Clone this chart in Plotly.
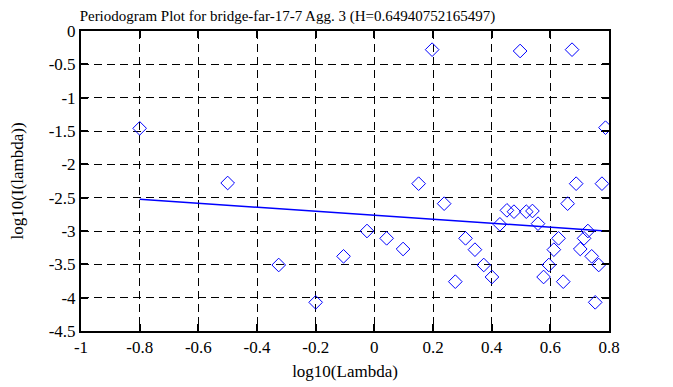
import plotly.graph_objects as go

# log10(Lambda) values
log_lambda = [-0.800, -0.500, -0.326, -0.200, -0.105, -0.025, 0.042, 0.098, 0.151,
              0.197, 0.238, 0.276, 0.311, 0.343, 0.373, 0.401, 0.428, 0.452, 0.476,
              0.497, 0.518, 0.539, 0.558, 0.577, 0.595, 0.612, 0.628, 0.644, 0.659,
              0.674, 0.688, 0.702, 0.715, 0.728, 0.741, 0.753, 0.765, 0.776, 0.788]
# log10(I(lambda)) values
log_I = [-1.46, -2.28, -3.51, -4.07, -3.38, -3.00, -3.11, -3.27, -2.29,
         -0.28, -2.59, -3.76, -3.11, -3.28, -3.51, -3.69, -2.90, -2.69, -2.71,
         -0.30, -2.71, -2.70, -2.89, -3.69, -3.51, -3.28, -3.11, -3.76, -2.59,
         -0.28, -2.29, -3.27, -3.11, -3.00, -3.38, -4.07, -3.51, -2.29, -1.45]

# fitted regression line endpoints
fit_x = [-0.800, 0.800]
fit_y = [-2.525, -3.003]

x_ticks = [-1, -0.8, -0.6, -0.4, -0.2, 0, 0.2, 0.4, 0.6, 0.8]
x_tick_text = ["-1", "-0.8", "-0.6", "-0.4", "-0.2", "0", "0.2", "0.4", "0.6", "0.8"]
y_ticks = [0, -0.5, -1, -1.5, -2, -2.5, -3, -3.5, -4, -4.5]
y_tick_text = ["0", "-0.5", "-1", "-1.5", "-2", "-2.5", "-3", "-3.5", "-4", "-4.5"]

title_text = "Periodogram Plot for bridge-far-17-7 Agg. 3 (H=0.64940752165497)"

FONT = "Liberation Serif, Times New Roman, serif"

# page body has an 8px margin, so the figure is sized to fit inside the window
W, H = 665, 379

fig = go.Figure()
fig.add_trace(go.Scatter(
    x=log_lambda, y=log_I, mode="markers",
    marker=dict(symbol="diamond-open", size=10.5, color="#0000ff",
                line=dict(width=1, color="#0000ff")),
    showlegend=False, hoverinfo="x+y"))
fig.add_trace(go.Scatter(
    x=fit_x, y=fit_y, mode="lines",
    line=dict(color="#0000ff", width=1.5),
    showlegend=False))

axis_common = dict(
    showline=True, linecolor="black", linewidth=2, mirror="allticks",
    ticks="inside", ticklen=7, tickwidth=2, tickcolor="black",
    showgrid=True, gridcolor="black", gridwidth=1, griddash="8px,5px",
    zeroline=False, automargin=False,
    tickfont=dict(family=FONT, size=17, color="black"),
)

fig.update_xaxes(range=[-1, 0.8], tickvals=x_ticks, ticktext=x_tick_text,
                 title=dict(text="log10(Lambda)", font=dict(family=FONT, size=17, color="black"),
                            standoff=9),
                 **axis_common)
fig.update_yaxes(range=[-4.5, 0], tickvals=y_ticks, ticktext=y_tick_text,
                 title=dict(text="log10(I(lambda))", font=dict(family=FONT, size=17, color="black"),
                            standoff=30),
                 **axis_common)

fig.update_layout(
    width=W, height=H,
    margin=dict(l=73, r=64, t=23, b=56, pad=0, autoexpand=False),
    paper_bgcolor="white", plot_bgcolor="white",
    font=dict(family=FONT, color="black"),
    title=dict(text=title_text, x=260 / W, xanchor="center", xref="paper",
               y=1 - 2 / H, yanchor="top", pad=dict(t=0, b=0),
               font=dict(family=FONT, size=15, color="black")),
)

fig.write_html("out.html")
